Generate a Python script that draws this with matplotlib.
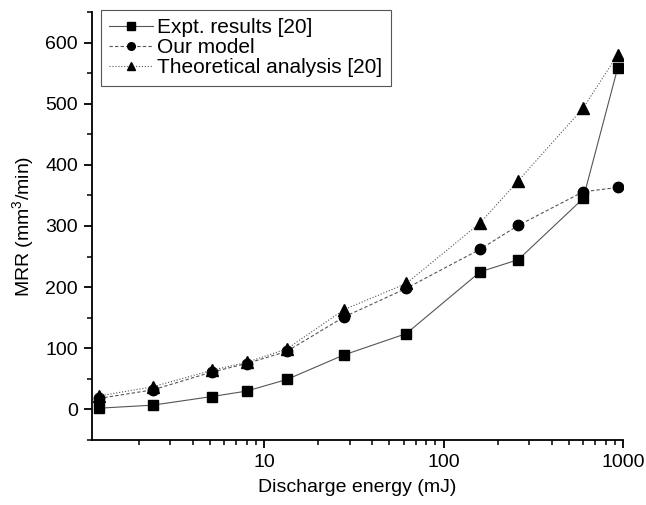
import matplotlib
matplotlib.use("Agg")
import matplotlib.pyplot as plt
from matplotlib.ticker import FixedLocator, NullFormatter, FixedFormatter, MultipleLocator

plt.rcParams['font.family'] = ['Liberation Sans', 'DejaVu Sans']
plt.rcParams['mathtext.fontset'] = 'custom'
plt.rcParams['mathtext.rm'] = 'Liberation Sans'

energy = [1.2, 2.4, 5.1, 8.0, 13.4, 27.8, 62, 160, 261, 600, 933]
expt = [2, 7, 21, 30, 49, 89, 124, 225, 245, 345, 558]
model = [18, 32, 61, 75, 95, 151, 198, 262, 301, 356, 363]
theory = [22, 37, 64, 77, 99, 163, 206, 305, 374, 493, 580]

fig = plt.figure(figsize=(6.46, 5.05), dpi=100)
ax = fig.add_axes([92/646, 1-440/505, (623-92)/646, (440-12)/505])

lc = '#555555'
ax.plot(energy, expt, '-', color=lc, lw=0.8, marker='s', ms=7.5, mfc='black', mec='black', label='Expt. results [20]')
ax.plot(energy, model, '--', color=lc, lw=0.8, marker='o', ms=7.5, mfc='black', mec='black', dashes=(3, 2), label='Our model')
ax.plot(energy, theory, ':', color=lc, lw=0.8, marker='^', ms=8, mfc='black', mec='black', label='Theoretical analysis [20]')

ax.set_xscale('log')
ax.set_xlim(1.1, 1000)
ax.set_ylim(-50, 650)
ax.yaxis.set_major_locator(FixedLocator([0, 100, 200, 300, 400, 500, 600]))
ax.yaxis.set_minor_locator(MultipleLocator(50))
ax.xaxis.set_major_locator(FixedLocator([10, 100, 1000]))
ax.xaxis.set_major_formatter(FixedFormatter(['10', '100', '1000']))
minors = [m * d for d in [1, 10, 100] for m in range(2, 10)]
ax.xaxis.set_minor_locator(FixedLocator(minors))
ax.xaxis.set_minor_formatter(NullFormatter())

for s in ['top', 'right']:
    ax.spines[s].set_visible(False)
for s in ['left', 'bottom']:
    ax.spines[s].set_linewidth(1.3)
ax.tick_params(which='major', direction='out', length=6, width=1.3, labelsize=14, colors='black', pad=4)
ax.tick_params(which='minor', direction='out', length=3.5, width=1.1)

ax.set_xlabel('Discharge energy (mJ)', fontsize=14, labelpad=6)
ax.set_ylabel('MRR (mm$^3$/min)', fontsize=14, labelpad=6)

leg = ax.legend(loc='upper left', bbox_to_anchor=(101/646, 1-10/505), bbox_transform=fig.transFigure,
                fontsize=15, frameon=True, fancybox=False, edgecolor='#555555', framealpha=1,
                handlelength=2.1, handletextpad=0.2, borderpad=0.4, labelspacing=0.05, borderaxespad=0)
leg.get_frame().set_linewidth(0.8)
for h in leg.legend_handles:
    h.set_markersize(5.5)

fig.savefig('out.png', dpi=100)
